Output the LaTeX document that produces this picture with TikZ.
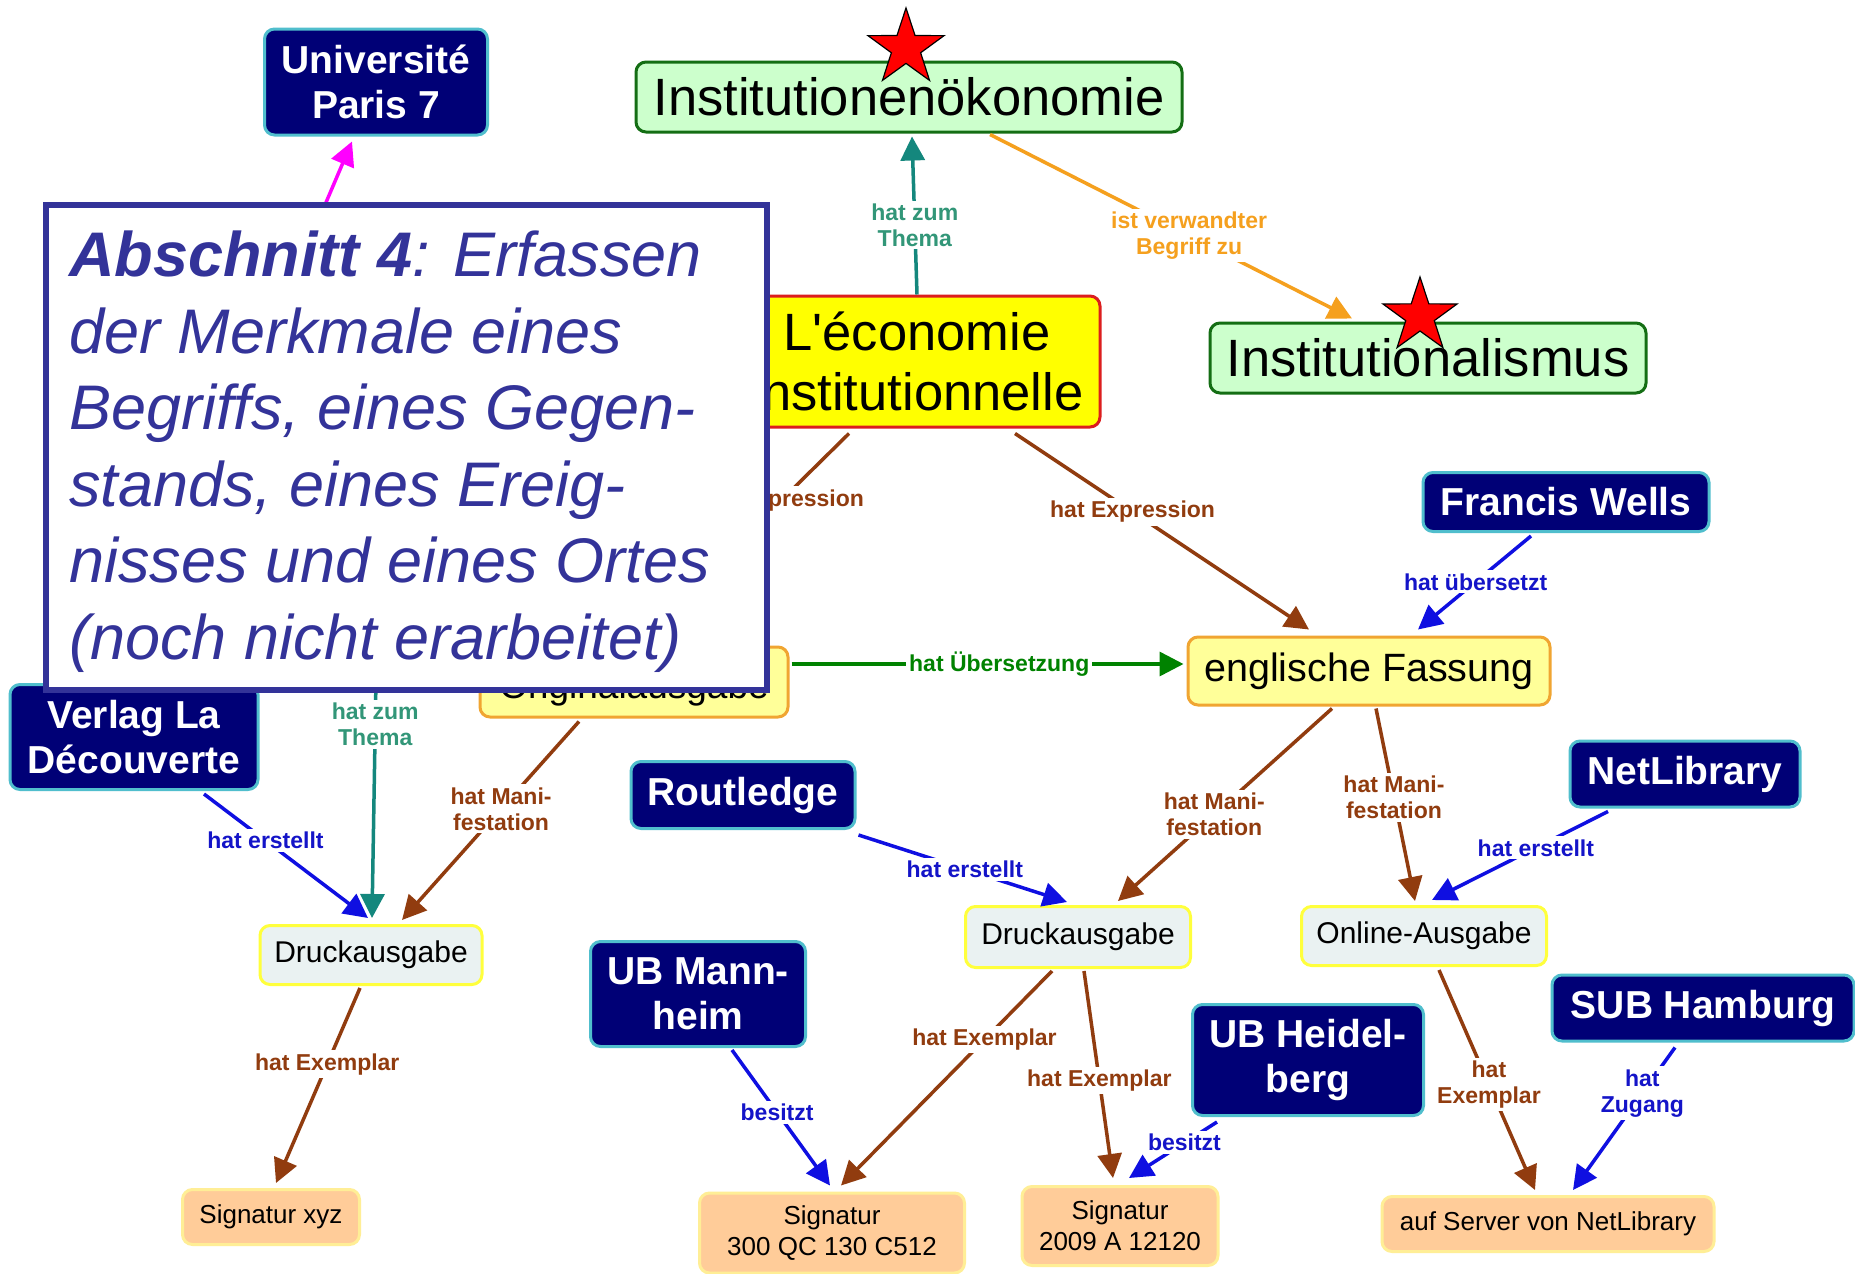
\documentclass[tikz,border=0pt]{standalone}
\usepackage{fontspec}
\setmainfont{Liberation Sans}
\usetikzlibrary{arrows.meta,shapes.geometric,calc}
\definecolor{navy}{RGB}{0,0,118}
\definecolor{navyborder}{RGB}{80,190,205}
\definecolor{cgreen}{RGB}{204,255,204}
\definecolor{cgreenb}{RGB}{20,110,20}
\definecolor{econfill}{RGB}{255,255,0}
\definecolor{econb}{RGB}{220,30,30}
\definecolor{fassfill}{RGB}{255,255,153}
\definecolor{fassb}{RGB}{240,165,50}
\definecolor{ausfill}{RGB}{234,242,242}
\definecolor{ausb}{RGB}{255,255,60}
\definecolor{sigfill}{RGB}{255,204,153}
\definecolor{sigb}{RGB}{255,238,150}
\definecolor{ebrown}{RGB}{145,60,15}
\definecolor{eblue}{RGB}{15,15,225}
\definecolor{lblue}{RGB}{20,20,200}
\definecolor{eteal}{RGB}{20,135,125}
\definecolor{lteal}{RGB}{50,150,120}
\definecolor{eorange}{RGB}{245,160,30}
\definecolor{egreen}{RGB}{0,130,0}
\definecolor{emag}{RGB}{255,0,255}
\definecolor{boxc}{RGB}{51,51,153}
\tikzset{
 basebox/.style={rounded corners=10pt, line width=3pt, align=center, inner sep=0pt},
 navybox/.style={basebox, fill=navy, draw=navyborder, text=white, font=\fontsize{39pt}{45pt}\selectfont\bfseries},
 concept/.style={basebox, fill=cgreen, draw=cgreenb, font=\fontsize{52.5pt}{60pt}\selectfont},
 econbox/.style={basebox, fill=econfill, draw=econb, font=\fontsize{52.5pt}{60pt}\selectfont},
 fassbox/.style={basebox, fill=fassfill, draw=fassb, font=\fontsize{39.5pt}{45pt}\selectfont},
 ausbox/.style={basebox, fill=ausfill, draw=ausb, font=\fontsize{30pt}{35pt}\selectfont},
 sigbox/.style={basebox, fill=sigfill, draw=sigb, font=\fontsize{26pt}{31pt}\selectfont},
 link/.style={line width=3.5pt, -{Triangle[length=24pt,width=24pt]}},
 lbl/.style={fill=white, inner sep=3pt, align=center, font=\fontsize{23pt}{26pt}\selectfont\bfseries},
 boxtxt/.style={text=boxc, inner sep=0pt, anchor=base west, font=\fontsize{63pt}{77pt}\selectfont\itshape},
 redstar/.style={star, star points=5, star point ratio=2.6, fill=red, draw=black, line width=1.2pt, inner sep=0pt},
}
\begin{document}
\begin{tikzpicture}[x=1pt,y=-1pt]
\fill[white] (0,0) rectangle (1855,1274);
\useasboundingbox (0,0) rectangle (1855,1274);

% nodes
\node[navybox, minimum width=223pt, minimum height=106pt] (univ) at (376,82) {Université\\Paris 7};
\node[concept, minimum width=546pt, minimum height=70pt] (inst) at (909,97) {Institutionenökonomie};
\node[concept, minimum width=436pt, minimum height=70pt] (instm) at (1428,358) {Institutionalismus};
\node[econbox, minimum width=366pt, minimum height=131pt] (econ) at (917,361.5) {L\textquotesingle économie\\institutionnelle};
\node[fassbox, minimum width=308pt, minimum height=70pt, text height=40pt, text depth=8pt, font=\fontsize{37pt}{42pt}\selectfont] (orig) at (634,682) {Originalausgabe};
\node[fassbox, minimum width=362pt, minimum height=68pt] (engl) at (1369,671) {englische Fassung};
\node[navybox, minimum width=286pt, minimum height=59pt] (fw) at (1566,502) {Francis Wells};
\node[navybox, minimum width=230pt, minimum height=66pt] (netlib) at (1685,774) {NetLibrary};
\node[navybox, minimum width=224pt, minimum height=67pt] (routl) at (743,795) {Routledge};
\node[navybox, minimum width=248pt, minimum height=105pt] (verlag) at (134,737) {Verlag La\\Découverte};
\node[ausbox, minimum width=222pt, minimum height=59pt] (druckL) at (371,955) {Druckausgabe};
\node[ausbox, minimum width=225pt, minimum height=61pt] (druckM) at (1078,937) {Druckausgabe};
\node[ausbox, minimum width=245pt, minimum height=59pt] (online) at (1424,936) {Online-Ausgabe};
\node[navybox, minimum width=215pt, minimum height=105pt] (ubm) at (698,994) {UB Mann-\\heim};
\node[navybox, minimum width=231pt, minimum height=111pt] (ubh) at (1308,1060) {UB Heidel-\\berg};
\node[navybox, minimum width=302pt, minimum height=66pt] (sub) at (1703,1008) {SUB Hamburg};
\node[sigbox, minimum width=177pt, minimum height=55pt] (sigX) at (271,1217) {Signatur xyz};
\node[sigbox, minimum width=265pt, minimum height=80pt] (sigA) at (832,1233) {Signatur\\300 QC 130 C512};
\node[sigbox, minimum width=196pt, minimum height=79pt] (sigB) at (1120,1226) {Signatur\\2009 A 12120};
\node[sigbox, minimum width=332pt, minimum height=55pt] (server) at (1548,1224) {auf Server von NetLibrary};

\coordinate (hidT) at (378,560);
\coordinate (hidM) at (310,240);

% connectors
\draw[link, eteal] (econ.north) -- node[lbl, text=lteal, pos=0.44]{hat zum\\Thema} ($(inst.south)+(3,3)$);
\draw[link, eorange] ($(inst.south)+(81,1)$) -- node[lbl, pos=0.55]{ist verwandter\\Begriff zu} ($(instm.north)+(-76,-3)$);
\draw[link, ebrown] ($(econ.south)+(98,5)$) -- node[lbl, pos=0.40]{hat Expression} ($(engl.north)+(-60,-6)$);
\draw[link, ebrown] ($(econ.south)+(-68,5)$) -- node[lbl, pos=0.32]{hat Expression} ($(orig.north)+(4,-4)$);
\draw[link, egreen] ($(orig.east)+(2,-18)$) -- node[lbl, pos=0.53]{hat Übersetzung} ($(engl.west)+(-3,-7)$);
\draw[link, eblue] ($(fw.south)+(-35,3)$) -- node[lbl, text=lblue, pos=0.49]{hat übersetzt} ($(engl.north)+(49,-6)$);
\draw[link, ebrown] ($(engl.south)+(-37,2)$) -- node[lbl, pos=0.55]{hat Mani-\\festation} ($(druckM.north)+(40,-4)$);
\draw[link, ebrown] ($(engl.south)+(7,2)$) -- node[lbl, pos=0.46]{hat Mani-\\festation} ($(online.north)+(-9,-4)$);
\draw[link, eblue] ($(netlib.south)+(-77,3)$) -- node[lbl, text=lblue, pos=0.41]{hat erstellt} ($(online.north)+(8,-5)$);
\draw[link, eblue] ($(routl.south east)+(2,5)$) -- node[lbl, text=lblue, pos=0.51]{hat erstellt} ($(druckM.north)+(-11,-3)$);
\draw[link, ebrown] ($(orig.south)+(-55,3)$) -- node[lbl, pos=0.44]{hat Mani-\\festation} ($(druckL.north)+(31,-4)$);
\draw[link, eblue] ($(verlag.south)+(70,3)$) -- node[lbl, text=lblue, pos=0.375]{hat erstellt} ($(druckL.north)+(-3,-6)$);
\draw[link, eteal] (hidT) -- node[lbl, text=lteal, pos=0.46]{hat zum\\Thema} ($(druckL.north)+(1,-6)$);
\draw[link, ebrown] ($(druckL.south)+(-11,2)$) -- node[lbl, pos=0.39]{hat Exemplar} ($(sigX.north)+(5,-5)$);
\draw[link, eblue] ($(ubm.south)+(34,2)$) -- node[lbl, text=lblue, pos=0.46]{besitzt} ($(sigA.north)+(-2,-6)$);
\draw[link, ebrown] ($(druckM.south)+(-26,2)$) -- node[lbl, pos=0.32]{hat Exemplar} ($(sigA.north)+(9,-6)$);
\draw[link, ebrown] ($(druckM.south)+(6,2)$) -- node[lbl, pos=0.53]{hat Exemplar} ($(sigB.north)+(-7,-7)$);
\draw[link, eblue] ($(ubh.south west)+(26,5)$) -- node[lbl, text=lblue, pos=0.37]{besitzt} ($(sigB.north)+(9,-7)$);
\draw[link, ebrown] ($(online.south)+(15,3)$) -- node[lbl, pos=0.52]{hat\\Exemplar} ($(server.north)+(-13,-5)$);
\draw[link, eblue] ($(sub.south)+(-28,5)$) -- node[lbl, text=lblue, pos=0.32]{hat\\Zugang} ($(server.north)+(25,-5)$);
\draw[link, emag] (hidM) -- ($(univ.south)+(-24,5)$);

% overlay box
\node[draw=boxc, fill=white, line width=6pt, minimum width=721pt, minimum height=485pt, inner sep=0pt] (sect) at (406.5,447.5) {};
\node[boxtxt] (t1) at (69,276) {\textbf{Abschnitt 4}: Erfassen};
\node[boxtxt] (t2) at (69,353) {der Merkmale eines};
\node[boxtxt] (t3) at (69,429) {Begriffs, eines Gegen-};
\node[boxtxt] (t4) at (69,506) {stands, eines Ereig-};
\node[boxtxt] (t5) at (69,582) {nisses und eines Ortes};
\node[boxtxt] (t6) at (69,659) {(noch nicht erarbeitet)};

% stars
\node[redstar, minimum size=80pt] (s1) at (906,48) {};
\node[redstar, minimum size=78pt] (s2) at (1420,316) {};
\end{tikzpicture}
\end{document}
